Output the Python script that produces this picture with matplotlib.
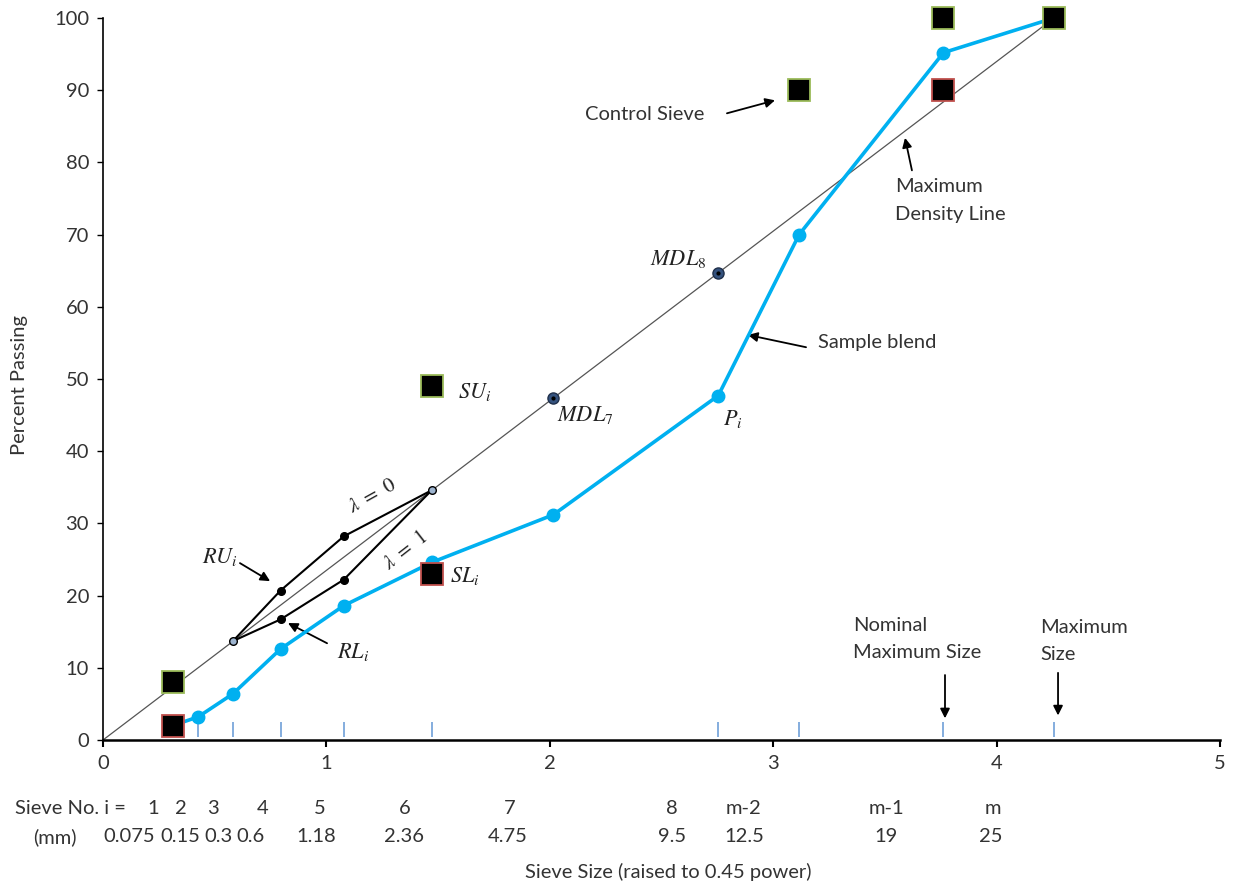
import numpy as np
import matplotlib
matplotlib.use("Agg")
import matplotlib.pyplot as plt

plt.rcParams['font.family'] = ['Lato', 'DejaVu Sans']
plt.rcParams['mathtext.fontset'] = 'stix'

# ---------------- data ----------------
sieve_no = ['1', '2', '3', '4', '5', '6', '7', '8', 'm-2', 'm-1', 'm']
sieve_mm = [0.075, 0.15, 0.3, 0.6, 1.18, 2.36, 4.75, 9.5, 12.5, 19, 25]
mm_labels = ['0.075', '0.15', '0.3', '0.6', '1.18', '2.36', '4.75', '9.5', '12.5', '19', '25']
power = 0.45

blend = [2.0, 3.2, 6.4, 12.6, 18.6, 24.6, 31.2, 47.7, 70.0, 95.2, 100.0]

upper_idx = [0, 5, 8, 9, 10]
upper_val = [8, 49, 90, 100, 100]
lower_idx = [0, 5, 9]
lower_val = [2, 23, 90]

mdl_idx = [6, 7]
mdl_val = [47.4, 64.7]

rz_idx = [2, 3, 4, 5]
rz_upper = [13.7, 20.7, 28.2, 34.6]
rz_lower = [13.7, 16.7, 22.2, 34.6]

tick_idx = [1, 2, 3, 4, 5, 7, 8, 9, 10]

x_s = np.array(sieve_mm) ** power

# label positions (data x) for the two text rows under the axis
row_no_x = [0.224, 0.349, 0.492, 0.716, 0.971, 1.352, 1.822, 2.547, 2.869, 3.509, 3.984]
row_mm_x = [0.116, 0.345, 0.515, 0.662, 0.953, 1.347, 1.813, 2.547, 2.869, 3.505, 3.975]

TXT = '#333333'
BLUE = '#00B0F0'
FS = 14.5

fig = plt.figure(figsize=(12.35, 8.9), dpi=100)
ax = fig.add_axes([103 / 1235, 150 / 890, 1117 / 1235, 722 / 890])
ax.set_xlim(0, 5)
ax.set_ylim(0, 100)

# maximum density line
ax.plot([0, x_s[-1]], [0, 100], color='#555555', lw=0.9, zorder=2)

# restricted zone
rx = x_s[rz_idx]
ax.plot(rx, rz_upper, color='black', lw=1.5, zorder=3)
ax.plot(rx, rz_lower, color='black', lw=1.5, zorder=3)
ax.plot(rx[1:3], rz_upper[1:3], 'o', color='black', ms=5.5, zorder=4)
ax.plot(rx[1:3], rz_lower[1:3], 'o', color='black', ms=5.5, zorder=4)
ax.plot([rx[0], rx[-1]], [rz_upper[0], rz_upper[-1]], 'o', mfc='#9DB4CF', mec='black',
        mew=1.0, ms=5.5, zorder=5)

# MDL markers
ax.plot(x_s[mdl_idx], mdl_val, 'o', mfc='#34527E', mec='#1F2F4A', ms=8, zorder=5)
ax.plot(x_s[mdl_idx], mdl_val, 'o', color='black', ms=2, zorder=6)

# sieve ticks at the base
ax.vlines(x_s[tick_idx], 0.4, 2.5, color='#6F9FD8', lw=1.2, zorder=2)

# sample blend
ax.plot(x_s, blend, '-o', color=BLUE, lw=2.6, ms=9, zorder=6)

# control sieves
ax.plot(x_s[upper_idx], upper_val, 's', mfc='black', mec='#9BBB59', mew=1.3, ms=15.5,
        zorder=7, clip_on=False)
ax.plot(x_s[lower_idx], lower_val, 's', mfc='black', mec='#C0504D', mew=1.3, ms=15.5,
        zorder=7, clip_on=False)

# axes styling
for s in ['top', 'right']:
    ax.spines[s].set_visible(False)
ax.spines['left'].set_linewidth(1.2)
ax.spines['bottom'].set_linewidth(1.8)
ax.set_xticks(range(0, 6))
ax.set_yticks(range(0, 101, 10))
ax.tick_params(axis='y', direction='out', length=4, width=1, pad=6, labelsize=FS,
               labelcolor=TXT)
ax.tick_params(axis='x', direction='out', length=5, width=1.5, pad=6, labelsize=FS,
               labelcolor=TXT)

# rows of sieve labels
fig.text(15 / 1235, 1 - 808 / 890, 'Sieve No. i =', fontsize=FS, color=TXT,
         ha='left', va='center')
fig.text(55 / 1235, 1 - 837 / 890, '(mm)', fontsize=FS, color=TXT,
         ha='center', va='center')
trans = ax.get_xaxis_transform()
for xx, lab in zip(row_no_x, sieve_no):
    ax.text(xx, -(808 - 740) / 722, lab, transform=trans, fontsize=FS, color=TXT,
            ha='center', va='center', clip_on=False)
for xx, lab in zip(row_mm_x, mm_labels):
    ax.text(xx, -(837 - 740) / 722, lab, transform=trans, fontsize=FS, color=TXT,
            ha='center', va='center', clip_on=False)

fig.text(668 / 1235, 1 - 872 / 890, 'Sieve Size (raised to 0.45 power)', fontsize=FS,
         color=TXT, ha='center', va='center')
fig.text(20 / 1235, 1 - 385 / 890, 'Percent Passing', fontsize=FS, color=TXT,
         ha='center', va='center', rotation=90)

# annotations
arr = dict(arrowstyle='-|>', color='black', lw=1.3, mutation_scale=14,
           shrinkA=0, shrinkB=0)


def arrow(x0, y0, x1, y1):
    ax.annotate('', xy=(x1, y1), xytext=(x0, y0), arrowprops=arr)


ax.text(2.158, 86.7, 'Control Sieve', fontsize=FS, color=TXT, ha='left', va='center')
arrow(2.793, 86.8, 3.008, 88.6)

ax.text(3.545, 74.7, 'Maximum\nDensity Line', fontsize=FS, color=TXT, ha='left',
        va='center', linespacing=1.75)
arrow(3.621, 78.9, 3.590, 83.4)

ax.text(3.200, 55.0, 'Sample blend', fontsize=FS, color=TXT, ha='left', va='center')
arrow(3.147, 54.4, 2.887, 56.1)

ax.text(3.357, 14.0, 'Nominal\nMaximum Size', fontsize=FS, color=TXT, ha='left',
        va='center', linespacing=1.75)
arrow(3.769, 9.0, 3.769, 3.0)

ax.text(4.194, 13.7, 'Maximum\nSize', fontsize=FS, color=TXT, ha='left',
        va='center', linespacing=1.75)
arrow(4.275, 9.3, 4.275, 3.4)

MT = dict(fontsize=16, color='#222222')
ax.text(2.70, 66.6, r'$MDL_8$', ha='right', va='center', **MT)
ax.text(2.032, 45.0, r'$MDL_7$', ha='left', va='center', **MT)
ax.text(1.589, 48.2, r'$SU_i$', ha='left', va='center', **MT)
ax.text(2.775, 44.5, r'$P_i$', ha='left', va='center', **MT)
ax.text(1.553, 22.7, r'$SL_i$', ha='left', va='center', **MT)
ax.text(0.605, 25.3, r'$RU_i$', ha='right', va='center', **MT)
arrow(0.613, 24.5, 0.748, 22.0)
ax.text(1.047, 12.2, r'$RL_i$', ha='left', va='center', **MT)
arrow(1.003, 13.4, 0.828, 16.2)
ax.text(1.204, 33.9, r'$\lambda\ =\ 0$', ha='center', va='center', rotation=29,
        rotation_mode='anchor', fontsize=15, color='#222222')
ax.text(1.352, 26.3, r'$\lambda\ =\ 1$', ha='center', va='center', rotation=38,
        rotation_mode='anchor', fontsize=15, color='#222222')

fig.savefig('out.png', dpi=100)
